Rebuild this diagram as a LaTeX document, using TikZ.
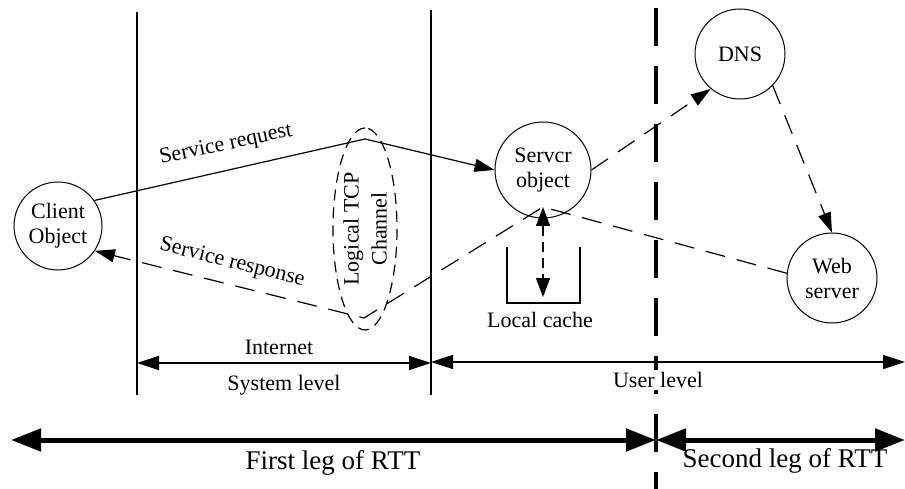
\documentclass[tikz,border=0pt]{standalone}
\usepackage{fontspec}
\setmainfont{Liberation Serif}
\usetikzlibrary{arrows.meta,shapes.geometric}
\begin{document}
\begin{tikzpicture}[x=1pt,y=-1pt,
  lbl/.style={font=\fontsize{22}{25}\selectfont, inner sep=0pt, align=center},
  biglbl/.style={font=\fontsize{27}{30}\selectfont, inner sep=0pt},
  obj/.style={circle, draw, line width=1pt, inner sep=0pt, align=center,
              font=\fontsize{22}{25}\selectfont},
  conn/.style={line width=1.2pt},
  dsh/.style={line width=1.2pt, dash pattern=on 20pt off 12pt},
  tip/.style={-{Triangle[length=20pt,width=13pt]}},
  dtip/.style={{Triangle[length=19pt,width=14pt]}-{Triangle[length=19pt,width=14pt]}},
  midtip/.style={{Triangle[length=22pt,width=14pt]}-{Triangle[length=22pt,width=14pt]}},
  bigtip/.style={{Triangle[length=30pt,width=22pt]}-{Triangle[length=30pt,width=22pt]}},
  vline/.style={line width=1.8pt},
]
\useasboundingbox (0,0) rectangle (905,489);

% thick dashed divider
\coordinate (dtop) at (656,8);
\coordinate (dbot) at (656,489);
\draw[line width=4.5pt, dash pattern=on 38pt off 20pt] (dtop) -- (dbot);

% thin vertical lines
\coordinate (l1t) at (137,12);
\coordinate (l1b) at (137,395);
\coordinate (l2t) at (431,10);
\coordinate (l2b) at (431,395);
\draw[vline] (l1t) -- (l1b);
\draw[vline] (l2t) -- (l2b);

% objects
\node[obj, minimum size=88pt] (client) at (58,226) {Client\\Object};
\node[obj, minimum size=96pt] (server) at (543,170) {Servcr\\object};
\node[obj, minimum size=90pt] (dns) at (740,54) {DNS};
\node[obj, minimum size=90pt] (web) at (832,278) {Web\\server};

% logical TCP channel
\node[ellipse, draw, line width=1.2pt, dash pattern=on 11pt off 7pt, rotate=90,
      minimum width=202pt, minimum height=64pt, inner sep=0pt, align=center,
      font=\fontsize{22}{28}\selectfont] (tcp) at (365,229) {Logical TCP\\Channel};

% request path
\coordinate (rpeak) at (365,139);
\draw[conn, tip] (client.35) -- (rpeak) -- (server.west);
\node[lbl, rotate=12] (req) at (226,145) {Service request};

% response path
\coordinate (speak) at (543,207);
\coordinate (ebot) at (364,318);
\draw[dsh, tip] (web.174) -- (speak) -- (ebot) -- (client.-34);
\node[lbl, rotate=-14] (resp) at (232,263) {Service response};

% server -> DNS -> web
\draw[dsh, tip] (server.east) -- (dns.-130);
\draw[dsh, tip] (dns.-44) -- (web.north);

% local cache
\coordinate (cbl) at (507,303);
\coordinate (cbr) at (580,303);
\draw[line width=2.5pt] (507,247) -- (cbl) -- (cbr) -- (580,247);
\coordinate (cachein) at (543,297);
\draw[line width=1.2pt, dash pattern=on 10pt off 6pt, dtip] (speak) -- (cachein);
\node[lbl] (cache) at (540,320) {Local cache};

% levels
\node[lbl, fill=white, inner sep=2pt] (ulev) at (658,380) {User level};
\coordinate (ia) at (137,363);
\coordinate (ib) at (431,363);
\coordinate (ua) at (431,362);
\coordinate (ub) at (905,362);
\draw[line width=1.5pt, midtip] (ia) -- (ib);
\draw[line width=1.5pt, midtip] (ua) -- (ub);
\node[lbl] (inet) at (279,347) {Internet};
\node[lbl] (slev) at (284,385) {System level};

% RTT
\coordinate (ra) at (11,440);
\coordinate (rm) at (656,440);
\coordinate (rb) at (905,440);
\draw[line width=5pt, bigtip] (ra) -- (rm);
\draw[line width=5pt, bigtip] (rm) -- (rb);
\node[biglbl] (first) at (333,463) {First leg of RTT};
\node[biglbl] (second) at (785,461) {Second leg of RTT};
\end{tikzpicture}
\end{document}
